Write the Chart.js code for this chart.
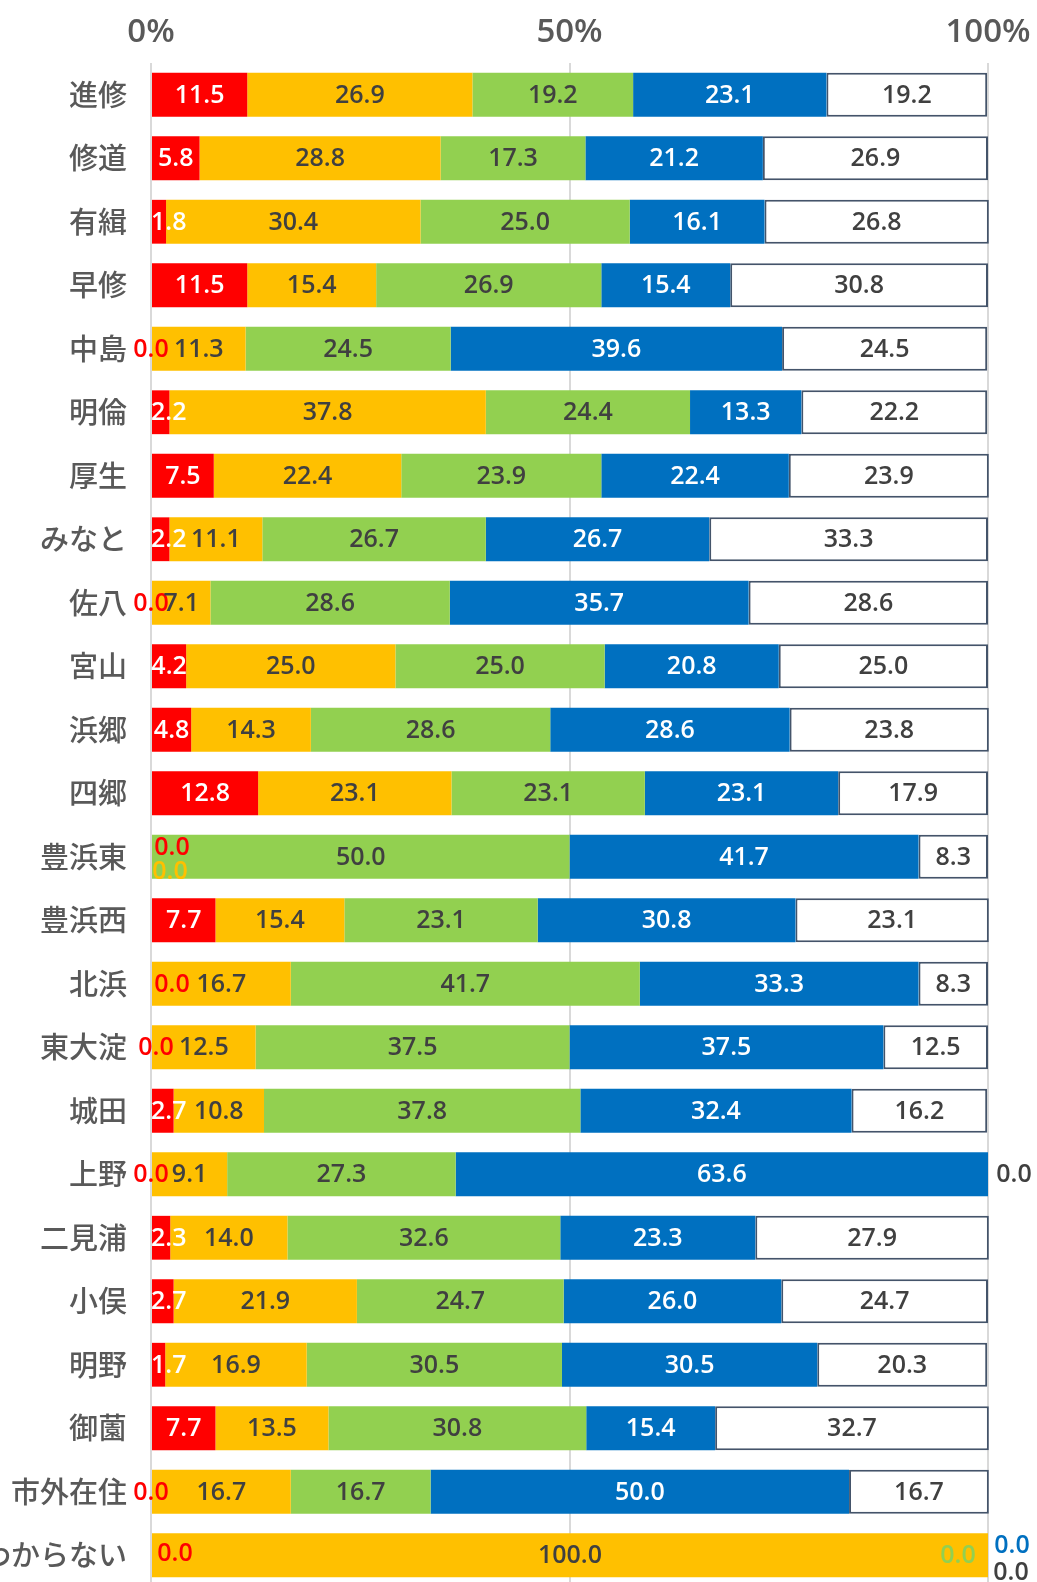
<!DOCTYPE html>
<html>
<head>
<meta charset="utf-8">
<script src="https://cdn.jsdelivr.net/npm/chart.js@4/dist/chart.umd.min.js"></script>
<style>
  html, body { margin: 0; padding: 0; background: #fff; }
  #wrap { width: 1037px; height: 1582px; }
</style>
</head>
<body>
<div id="wrap"><canvas id="chart"></canvas></div>
<script>
// data
const categories = ['進修', '修道', '有緝', '早修', '中島', '明倫', '厚生', 'みなと', '佐八', '宮山', '浜郷', '四郷',
    '豊浜東', '豊浜西', '北浜', '東大淀', '城田', '上野', '二見浦', '小俣', '明野', '御薗', '市外在住', 'わからない'];

const seriesRed    = [11.5, 5.8, 1.8, 11.5, 0.0, 2.2, 7.5, 2.2, 0.0, 4.2, 4.8, 12.8, 0.0, 7.7, 0.0, 0.0, 2.7, 0.0, 2.3, 2.7, 1.7, 7.7, 0.0, 0.0];
const seriesOrange = [26.9, 28.8, 30.4, 15.4, 11.3, 37.8, 22.4, 11.1, 7.1, 25.0, 14.3, 23.1, 0.0, 15.4, 16.7, 12.5, 10.8, 9.1, 14.0, 21.9, 16.9, 13.5, 16.7, 100.0];
const seriesGreen  = [19.2, 17.3, 25.0, 26.9, 24.5, 24.4, 23.9, 26.7, 28.6, 25.0, 28.6, 23.1, 50.0, 23.1, 41.7, 37.5, 37.8, 27.3, 32.6, 24.7, 30.5, 30.8, 16.7, 0.0];
const seriesBlue   = [23.1, 21.2, 16.1, 15.4, 39.6, 13.3, 22.4, 26.7, 35.7, 20.8, 28.6, 23.1, 41.7, 30.8, 33.3, 37.5, 32.4, 63.6, 23.3, 26.0, 30.5, 15.4, 50.0, 0.0];
const seriesWhite  = [19.2, 26.9, 26.8, 30.8, 24.5, 22.2, 23.9, 33.3, 28.6, 25.0, 23.8, 17.9, 8.3, 23.1, 8.3, 12.5, 16.2, 0.0, 27.9, 24.7, 20.3, 32.7, 16.7, 0.0];

const tickValues = [0, 50, 100];

// nudges for the 0.0 labels, as in the original: 'series:row' -> [dx, dy]
const zeroNudge = {
    '0:12': [21, -10], '1:12': [19, 14],
    '0:14': [21, 0], '0:15': [5, 0],
    '0:23': [24, -2], '2:23': [-30, 0], '3:23': [24, -10], '4:23': [23, 17],
    '4:17': [26, 0]
};

const numFont = '"Open Sans", "Noto Sans", sans-serif';
const jpFont = '"Noto Sans CJK JP", "Noto Sans", sans-serif';
const darkText = '#404040';

// the last row of the original runs a little past the bottom edge
const stretchRows = {
    id: 'stretchRows',
    afterLayout(chart) {
        const y = chart.scales.y;
        y.bottom = chart.chartArea.bottom + 5;
        y.height = y.bottom - y.top;
        y.configure();
    }
};

const valueLabels = {
    id: 'valueLabels',
    afterDatasetsDraw(chart) {
        const ctx = chart.ctx;
        const area = chart.chartArea;
        ctx.save();
        ctx.font = '600 25px ' + numFont;
        ctx.textBaseline = 'middle';
        ctx.textAlign = 'center';
        chart.data.datasets.forEach((ds, di) => {
            const meta = chart.getDatasetMeta(di);
            meta.data.forEach((bar, i) => {
                const v = ds.data[i];
                const text = v.toFixed(1);
                let x = (bar.x + bar.base) / 2;
                let y = bar.y;
                let color;
                if (v === 0) {
                    color = ds.zeroColor;
                    const n = zeroNudge[di + ':' + i];
                    if (n) { x += n[0]; y += n[1]; }
                } else {
                    color = ds.textColor;
                    const w = ctx.measureText(text).width;
                    if (x - w / 2 < area.left) x = area.left + w / 2;
                }
                ctx.fillStyle = color;
                ctx.fillText(text, x, y + 1);
            });
        });
        ctx.restore();
    }
};

function makeSet(label, data, fill, textColor, zeroColor, border) {
    return {
        label: label,
        data: data,
        backgroundColor: fill,
        borderColor: border || fill,
        borderWidth: border ? 2 : 0,
        borderSkipped: false,
        textColor: textColor,
        zeroColor: zeroColor,
        barPercentage: 0.69,
        categoryPercentage: 1.0,
        clip: false
    };
}

const chart = new Chart(document.getElementById('chart').getContext('2d'), {
    type: 'bar',
    data: {
        labels: categories,
        datasets: [
            makeSet('s1', seriesRed, '#FF0000', '#FFFFFF', '#FF0000'),
            makeSet('s2', seriesOrange, '#FFC000', darkText, '#FFC000'),
            makeSet('s3', seriesGreen, '#92D050', darkText, '#92D050'),
            makeSet('s4', seriesBlue, '#0070C0', '#FFFFFF', '#0070C0'),
            makeSet('s5', seriesWhite, '#FFFFFF', darkText, darkText, '#44546A')
        ]
    },
    options: {
        indexAxis: 'y',
        responsive: true,
        maintainAspectRatio: false,
        animation: false,
        layout: { padding: { top: 0, right: 49, bottom: 0, left: 0 } },
        plugins: {
            legend: { display: false },
            tooltip: { enabled: false }
        },
        scales: {
            x: {
                position: 'top',
                stacked: true,
                min: 0,
                max: 100,
                afterBuildTicks(scale) {
                    scale.ticks = tickValues.map(v => ({ value: v }));
                },
                afterFit(scale) {
                    scale.height = 63;
                    scale.paddingLeft = 0;
                    scale.paddingRight = 0;
                },
                ticks: {
                    callback: v => v + '%',
                    color: '#595959',
                    padding: 11,
                    maxRotation: 0,
                    font: { family: numFont, size: 33, weight: '600' }
                },
                grid: { color: '#D9D9D9', lineWidth: 2, drawTicks: false },
                border: { display: false }
            },
            y: {
                stacked: true,
                afterFit(scale) {
                    scale.width = 151;
                    scale.paddingTop = 0;
                    scale.paddingBottom = 0;
                },
                ticks: {
                    color: '#595959',
                    padding: 24,
                    autoSkip: false,
                    font: { family: jpFont, size: 29, weight: '500' }
                },
                grid: { display: false, drawTicks: false },
                border: { display: false }
            }
        }
    },
    plugins: [stretchRows, valueLabels]
});
</script>
</body>
</html>
